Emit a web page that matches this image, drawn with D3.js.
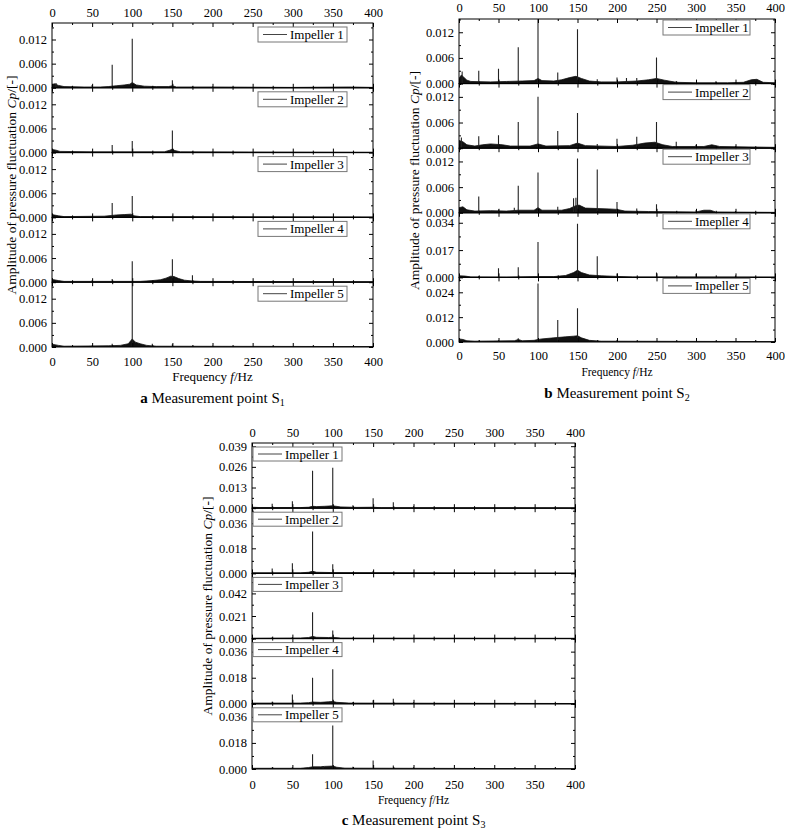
<!DOCTYPE html>
<html>
<head>
<meta charset="utf-8">
<script src="https://cdn.jsdelivr.net/npm/d3@7/dist/d3.min.js"></script>
<style>
html,body{margin:0;padding:0;background:#fff;}
svg{display:block;}
svg text{font-family:"Liberation Serif","Times New Roman",serif !important;}
</style>
</head>
<body>
<svg id="chart" width="785" height="829"></svg>
<script>
// ---------------- DATA ----------------
const freqTicks = [0, 50, 100, 150, 200, 250, 300, 350, 400];
const freqMinorTicks = [25, 75, 125, 175, 225, 275, 325, 375];

const labelsS1 = ["Impeller 1", "Impeller 2", "Impeller 3", "Impeller 4", "Impeller 5"];
const labelsS2 = ["Impeller 1", "Impeller 2", "Impeller 3", "Imepller 4", "Impeller 5"];
const labelsS3 = ["Impeller 1", "Impeller 2", "Impeller 3", "Impeller 4", "Impeller 5"];

// y tick labels per sub-plot
const yTicksS1 = [[0, 0.006, 0.012], [0, 0.006, 0.012], [0, 0.006, 0.012], [0, 0.006, 0.012], [0, 0.006, 0.012]];
const yTicksS2 = [[0, 0.006, 0.012], [0, 0.006, 0.012], [0, 0.006, 0.012], [0, 0.017, 0.034], [0, 0.012, 0.024]];
const yTicksS3 = [[0, 0.013, 0.026, 0.039], [0, 0.018, 0.036], [0, 0.021, 0.042], [0, 0.018, 0.036], [0, 0.018, 0.036]];
// y axis upper limits per sub-plot
const yMaxS1 = [0.0161, 0.0161, 0.0161, 0.0161, 0.0161];
const yMaxS2 = [0.0151, 0.0151, 0.0151, 0.0402, 0.0312];
const yMaxS3 = [0.0410, 0.0468, 0.0606, 0.0450, 0.0450];

// discrete spectral peaks [frequency Hz, amplitude Cp]
const peaksS1 = [
  [[5,0.0012],[25,0.0004],[50,0.0007],[75,0.0057],[100,0.0122],[125,0.0004],[150,0.0019],[175,0.0003],[200,0.0003]],
  [[25,0.0003],[50,0.0003],[75,0.0019],[100,0.0029],[150,0.0055],[175,0.0003],[200,0.0002]],
  [[25,0.0003],[50,0.0003],[75,0.0036],[100,0.0053],[150,0.0004]],
  [[25,0.0003],[50,0.0005],[75,0.0008],[100,0.0052],[150,0.0057],[175,0.0017],[200,0.0003]],
  [[50,0.0004],[75,0.0008],[100,0.0170],[125,0.0008],[150,0.0007],[175,0.0003],[200,0.0003]]
];
const peaksS2 = [
  [[4,0.0028],[25,0.0030],[50,0.0035],[75,0.0085],[100,0.0160],[125,0.0026],[150,0.0127],[175,0.0010],[200,0.0014],[212,0.0013],[225,0.0013],[250,0.0061],[275,0.0006],[325,0.0005],[350,0.0004]],
  [[3,0.0025],[25,0.0028],[50,0.0030],[75,0.0061],[100,0.0120],[125,0.0040],[150,0.0082],[175,0.0010],[200,0.0022],[225,0.0027],[250,0.0061],[275,0.0015],[300,0.0008],[350,0.0005]],
  [[25,0.0038],[50,0.0008],[70,0.0012],[75,0.0063],[100,0.0094],[125,0.0014],[145,0.0034],[148,0.0035],[150,0.0127],[175,0.0101],[200,0.0025],[225,0.0010],[250,0.0020],[300,0.0006],[350,0.0004]],
  [[25,0.0008],[50,0.0057],[75,0.0063],[100,0.0220],[150,0.0334],[175,0.0132],[200,0.0025],[250,0.0030],[300,0.0022],[350,0.0012]],
  [[25,0.0006],[50,0.0008],[75,0.0018],[100,0.0283],[125,0.0106],[150,0.0163],[175,0.0006],[200,0.0010],[250,0.0005],[300,0.0004]]
];
const peaksS3 = [
  [[25,0.0028],[50,0.0044],[75,0.0235],[100,0.0254],[125,0.0018],[150,0.0063],[175,0.0038],[200,0.0012],[250,0.0006],[300,0.0004],[375,0.0004]],
  [[25,0.0035],[50,0.0072],[75,0.0300],[100,0.0065],[125,0.0010],[150,0.0018],[175,0.0008],[200,0.0008],[250,0.0006],[300,0.0004]],
  [[25,0.0012],[50,0.0015],[75,0.0245],[100,0.0076],[125,0.0010],[150,0.0012],[175,0.0008],[200,0.0008]],
  [[25,0.0015],[50,0.0065],[75,0.0180],[100,0.0238],[125,0.0012],[150,0.0025],[175,0.0035],[200,0.0010],[250,0.0006],[300,0.0005],[350,0.0004]],
  [[25,0.0010],[50,0.0012],[75,0.0101],[88,0.0020],[100,0.0300],[125,0.0015],[150,0.0058],[175,0.0025],[200,0.0012],[250,0.0005]]
];

// broadband noise floor [frequency Hz, amplitude Cp]
const floorS1 = [
  [[0,0.0008],[3,0.0010],[8,0.0006],[15,0.0003],[40,0.0002],[60,0.0002],[70,0.0003],[80,0.0005],[90,0.0007],[97,0.0009],[100,0.0013],[105,0.0007],[115,0.0004],[130,0.0003],[145,0.0003],[150,0.0005],[155,0.0002],[200,0.0002],[300,0.0001],[370,0.0002],[400,0.0001]],
  [[0,0.0008],[5,0.0006],[10,0.0003],[50,0.0002],[140,0.0002],[147,0.0006],[150,0.0009],[153,0.0005],[160,0.0002],[400,0.0001]],
  [[0,0.0007],[8,0.0004],[15,0.0002],[65,0.0003],[75,0.0005],[80,0.0006],[90,0.0007],[98,0.0008],[102,0.0004],[110,0.0002],[400,0.0001]],
  [[0,0.0007],[8,0.0004],[15,0.0002],[110,0.0002],[125,0.0004],[135,0.0006],[142,0.0010],[148,0.0015],[152,0.0014],[158,0.0009],[165,0.0005],[175,0.0003],[185,0.0002],[400,0.0001]],
  [[0,0.0007],[8,0.0004],[15,0.0002],[70,0.0003],[85,0.0004],[95,0.0008],[100,0.0020],[104,0.0012],[110,0.0008],[118,0.0004],[130,0.0002],[400,0.0001]]
];
const floorS2 = [
  [[0,0.0012],[3,0.0020],[6,0.0015],[10,0.0008],[15,0.0005],[40,0.0004],[60,0.0005],[80,0.0006],[95,0.0007],[100,0.0012],[105,0.0007],[120,0.0006],[130,0.0009],[140,0.0014],[148,0.0017],[155,0.0012],[165,0.0006],[180,0.0004],[200,0.0004],[225,0.0006],[240,0.0009],[250,0.0012],[260,0.0008],[275,0.0003],[300,0.0002],[340,0.0002],[360,0.0003],[370,0.0009],[377,0.0010],[385,0.0003],[400,0.0002]],
  [[0,0.0018],[5,0.0015],[10,0.0008],[20,0.0005],[30,0.0008],[40,0.0010],[55,0.0008],[65,0.0005],[90,0.0005],[100,0.0010],[110,0.0005],[140,0.0006],[150,0.0012],[160,0.0006],[200,0.0004],[220,0.0007],[235,0.0012],[248,0.0014],[258,0.0008],[270,0.0004],[310,0.0004],[320,0.0008],[330,0.0004],[400,0.0002]],
  [[0,0.0012],[5,0.0014],[10,0.0007],[20,0.0004],[40,0.0005],[60,0.0004],[75,0.0006],[95,0.0006],[100,0.0012],[105,0.0006],[130,0.0006],[140,0.0010],[147,0.0016],[152,0.0018],[160,0.0011],[175,0.0010],[190,0.0009],[200,0.0008],[210,0.0004],[240,0.0003],[300,0.0002],[310,0.0006],[318,0.0006],[325,0.0002],[400,0.0001]],
  [[0,0.0010],[8,0.0008],[15,0.0003],[60,0.0002],[100,0.0005],[120,0.0005],[135,0.0012],[145,0.0030],[150,0.0045],[155,0.0030],[165,0.0015],[180,0.0010],[200,0.0006],[220,0.0003],[400,0.0002]],
  [[0,0.0015],[5,0.0012],[10,0.0006],[20,0.0004],[70,0.0006],[75,0.0012],[80,0.0006],[95,0.0008],[100,0.0012],[105,0.0015],[120,0.0020],[135,0.0025],[145,0.0028],[150,0.0030],[155,0.0020],[165,0.0008],[180,0.0004],[400,0.0002]]
];
const floorS3 = [
  [[0,0.0006],[10,0.0004],[60,0.0004],[70,0.0006],[75,0.0012],[80,0.0010],[90,0.0012],[100,0.0015],[110,0.0008],[130,0.0005],[150,0.0006],[160,0.0003],[400,0.0002]],
  [[0,0.0004],[60,0.0004],[70,0.0008],[75,0.0015],[80,0.0008],[100,0.0006],[400,0.0002]],
  [[0,0.0004],[60,0.0006],[70,0.0010],[75,0.0020],[80,0.0012],[95,0.0010],[100,0.0012],[110,0.0005],[400,0.0003]],
  [[0,0.0005],[60,0.0005],[70,0.0008],[75,0.0012],[85,0.0010],[95,0.0014],[100,0.0016],[105,0.0010],[120,0.0005],[400,0.0002]],
  [[0,0.0005],[60,0.0005],[70,0.0010],[75,0.0015],[85,0.0015],[90,0.0018],[100,0.0020],[105,0.0012],[115,0.0006],[400,0.0002]]
];

// ---------------- LAYOUT ----------------
const FONT = '"Liberation Serif","Times New Roman",serif';
const panels = [
  {id:"a", sub:"1", left:52, right:373, top:23, bottom:347, labels:labelsS1, yTicks:yTicksS1, yMax:yMaxS1, peaks:peaksS1, floor:floorS1,
   legend:{align:"right", dx:26, dy:4, w:89, h:15}, topPad:6, botPad:10, xTitleSize:13, xTitleY:381, capY:403, yTitleX:11},
  {id:"b", sub:"2", left:459, right:775, top:19, bottom:342, labels:labelsS2, yTicks:yTicksS2, yMax:yMaxS2, peaks:peaksS2, floor:floorS2,
   legend:{align:"right", dx:25, dy:1, w:87, h:15}, topPad:7, botPad:9, xTitleSize:11.5, xTitleY:376, capY:398, yTitleX:414},
  {id:"c", sub:"3", left:252, right:575, top:443, bottom:769, labels:labelsS3, yTicks:yTicksS3, yMax:yMaxS3, peaks:peaksS3, floor:floorS3,
   legend:{align:"left", dx:1, dy:4, w:89, h:14}, topPad:6, botPad:11, xTitleSize:11.5, xTitleY:804, capY:825, yTitleX:207}
];

const svg = d3.select("#chart").style("font-family", FONT);
const fmt = d3.format(".3f");
let clipId = 0;

panels.forEach(p => {
  const g = svg.append("g");
  const x = d3.scaleLinear().domain([0, 400]).range([p.left, p.right]);
  const h = (p.bottom - p.top) / 5;

  for (let i = 0; i < 5; i++) {
    const y0 = p.top + i * h, y1 = y0 + h;
    const y = d3.scaleLinear().domain([0, p.yMax[i]]).range([y1, y0]);
    const cid = "clip" + (clipId++);
    svg.append("clipPath").attr("id", cid).append("rect")
      .attr("x", p.left).attr("y", y0).attr("width", p.right - p.left).attr("height", h);
    const sg = g.append("g");
    const data = sg.append("g").attr("clip-path", `url(#${cid})`);

    // broadband floor
    const area = d3.area().x(d => x(d[0])).y0(y(0)).y1(d => y(d[1]));
    data.append("path").datum(p.floor[i]).attr("d", area)
      .attr("fill", "#111").attr("stroke", "#111").attr("stroke-width", 0.8);
    // peaks
    data.selectAll("line.pk").data(p.peaks[i]).join("line").attr("class", "pk")
      .attr("x1", d => x(d[0])).attr("x2", d => x(d[0]))
      .attr("y1", y(0)).attr("y2", d => y(d[1]))
      .attr("stroke", "#222").attr("stroke-width", 1.1);

    // axes
    const bottomAx = d3.axisBottom(x).tickValues(freqTicks).tickSize(-4).tickPadding(p.botPad)
      .tickFormat(i === 4 ? d3.format("d") : () => "");
    const bottomMinor = d3.axisBottom(x).tickValues(freqMinorTicks).tickSize(-2).tickFormat(() => "");
    const topAx = d3.axisTop(x).tickValues(freqTicks).tickSize(-4).tickPadding(p.topPad)
      .tickFormat(i === 0 ? d3.format("d") : () => "");
    const topMinor = d3.axisTop(x).tickValues(freqMinorTicks).tickSize(-2).tickFormat(() => "");

    const yt = p.yTicks[i];
    const step = yt[1] - yt[0];
    const yMinor = [];
    yt.forEach(v => { if (v + step / 2 <= p.yMax[i]) yMinor.push(v + step / 2); });
    const leftAx = d3.axisLeft(y).tickValues(yt).tickSize(-4).tickPadding(5).tickFormat(fmt);
    const leftMinor = d3.axisLeft(y).tickValues(yMinor).tickSize(-2).tickFormat(() => "");
    const rightAx = d3.axisRight(y).tickValues(yt).tickSize(-4).tickFormat(() => "");
    const rightMinor = d3.axisRight(y).tickValues(yMinor).tickSize(-2).tickFormat(() => "");

    const addAx = (ax, tx, ty) => {
      const a = sg.append("g").attr("transform", `translate(${tx},${ty})`).call(ax);
      a.attr("font-family", null).attr("font-size", null);
      a.select(".domain").remove();
      a.selectAll("line").attr("stroke", "#000");
      a.selectAll("text").style("font-family", FONT).style("font-size", "12.5px").attr("fill", "#000");
      return a;
    };
    addAx(bottomAx, 0, y1); addAx(bottomMinor, 0, y1);
    addAx(topAx, 0, y0); addAx(topMinor, 0, y0);
    addAx(leftAx, p.left, 0); addAx(leftMinor, p.left, 0);
    addAx(rightAx, p.right, 0); addAx(rightMinor, p.right, 0);

    // frame
    sg.append("rect").attr("x", p.left).attr("y", y0).attr("width", p.right - p.left).attr("height", h)
      .attr("fill", "none").attr("stroke", "#000").attr("stroke-width", 1);

    // legend
    const L = p.legend;
    const lx = L.align === "right" ? p.right - L.dx - L.w : p.left + L.dx;
    const ly = y0 + L.dy;
    const lg = sg.append("g");
    lg.append("rect").attr("x", lx).attr("y", ly).attr("width", L.w).attr("height", L.h)
      .attr("fill", "#fff").attr("stroke", "#777").attr("stroke-width", 1);
    lg.append("line").attr("x1", lx + 5).attr("x2", lx + 29).attr("y1", ly + L.h / 2).attr("y2", ly + L.h / 2)
      .attr("stroke", "#444").attr("stroke-width", 1);
    lg.append("text").attr("x", lx + 32).attr("y", ly + L.h / 2 + 4.5)
      .style("font-size", "13px").text(p.labels[i]);
  }

  // x title
  const cx = (p.left + p.right) / 2;
  const xt = g.append("text").attr("x", cx).attr("y", p.xTitleY).attr("text-anchor", "middle")
    .style("font-size", p.xTitleSize + "px");
  xt.append("tspan").text("Frequency ");
  xt.append("tspan").attr("font-style", "italic").text("f");
  xt.append("tspan").text("/Hz");

  // y title
  const cy = (p.top + p.bottom) / 2;
  const ytl = g.append("text").attr("transform", `translate(${p.yTitleX},${cy}) rotate(-90)`)
    .attr("text-anchor", "middle").style("font-size", "13.5px").attr("dy", "0.35em");
  ytl.append("tspan").text("Amplitude of pressure fluctuation ");
  ytl.append("tspan").attr("font-style", "italic").text("Cp");
  ytl.append("tspan").text("/[-]");

  // caption
  const cap = g.append("text").attr("x", cx).attr("y", p.capY).attr("text-anchor", "middle").style("font-size", "15px");
  cap.append("tspan").attr("font-weight", "bold").text(p.id);
  cap.append("tspan").text(" Measurement point S");
  cap.append("tspan").style("font-size", "10px").attr("dy", 3).text(p.sub);
});
</script>
</body>
</html>
